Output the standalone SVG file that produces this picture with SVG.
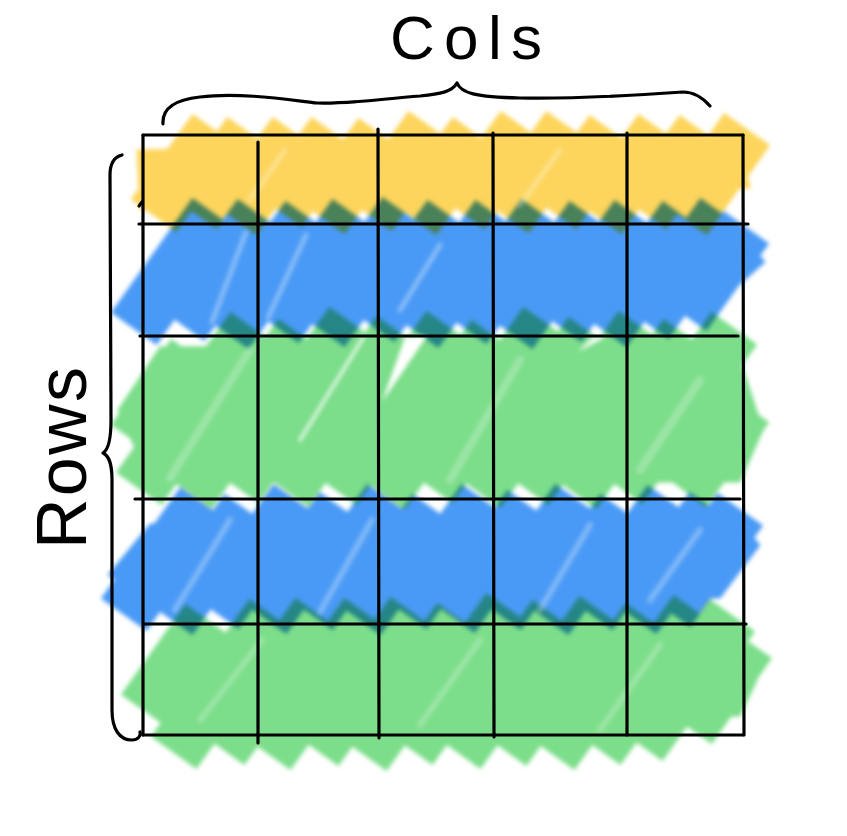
<svg xmlns="http://www.w3.org/2000/svg" width="847" height="836" viewBox="0 0 847 836">
  <defs>
    <filter id="soft" filterUnits="userSpaceOnUse" x="0" y="0" width="847" height="836">
      <feGaussianBlur stdDeviation="1.9"/>
    </filter>
    <filter id="softer" filterUnits="userSpaceOnUse" x="0" y="0" width="847" height="836">
      <feGaussianBlur stdDeviation="2"/>
    </filter>
    <style>
      .band { mix-blend-mode: multiply; }
      .strk { fill: none; stroke-width: 56; stroke-linecap: square; stroke-linejoin: round; }
      .yellow { fill: #FDD55B; stroke: #FDD55B; }
      .blue { fill: #4A9AF6; stroke: #4A9AF6; }
      .green { fill: #7CDE8A; stroke: #7CDE8A; }
      .streak { stroke: #FFFFFF; fill: none; stroke-linecap: round; }
      .grid { stroke: #000; stroke-width: 3.2; stroke-linecap: round; fill: none; }
      .ink { stroke: #000; stroke-width: 3.2; stroke-linecap: round; stroke-linejoin: round; fill: none; }
      .hand { font-family: "Liberation Sans", "DejaVu Sans", sans-serif; fill: #000; }
    </style>
  </defs>
  <rect width="847" height="836" fill="#FFFFFF"/>

  <g id="bands">
    <g id="row-1-yellow" class="band" filter="url(#soft)">
      <polygon class="yellow" points="137,150 740,142 750,188 140,210"/>
      <path class="strk yellow" d="M170 193l29-40M210 190l24-34M250 196l29-40M295 188l23-32M338 195l27-38M385 192l30-42M430 196l29-40M478 190l29-40M522 194l31-44M570 190l26-36M615 195l30-42M660 190l26-36M700 196l31-44"/>
    </g>
    <g id="row-2-blue" class="band" filter="url(#soft)">
      <polygon class="blue" points="125,300 170,242 745,238 765,262 720,302 150,314"/>
      <path class="strk blue" d="M150 306l49-69M198 302l46-64M242 310l50-70M292 304l47-66M338 308l51-72M388 303l46-64M432 309l50-70M480 305l48-67M526 310l50-70M575 303l46-64M620 308l49-68M662 300l45-63M700 292l30-42"/>
    </g>
    <g id="row-3-green" class="band" filter="url(#soft)">
      <polygon class="green" points="118,410 160,347 735,344 763,430 740,482 150,482"/>
      <path class="strk green" d="M150 418l28-40M155 466l82-115M205 470l80-112M252 464l84-118M302 468l81-113M350 466l83-116M398 471l80-112M446 464l84-118M494 469l81-113M542 466l83-116M590 470l80-112M636 465l82-114M700 468l30-40"/>
    </g>
    <g id="row-4-blue" class="band" filter="url(#soft)">
      <polygon class="blue" points="108,575 150,524 740,522 760,545 720,598 150,602"/>
      <path class="strk blue" d="M140 592l47-66M186 596l45-63M232 590l48-67M280 595l46-64M326 591l48-68M374 596l45-63M420 590l48-67M468 594l46-65M514 591l48-68M562 596l45-63M606 591l48-67M650 595l46-64M684 588l40-56"/>
    </g>
    <g id="row-5-green" class="band" filter="url(#soft)">
      <polygon class="green" points="128,690 165,638 735,638 757,680 740,716 175,726"/>
      <path class="strk green" d="M160 688l32-45M190 730l66-92M238 726l64-89M284 731l67-94M332 727l65-91M380 732l64-90M426 726l67-94M474 730l65-91M520 727l66-92M568 731l64-89M614 726l66-92M656 722l60-84M705 705l28-40"/>
    </g>
  </g>

  <g id="texture" filter="url(#softer)">
    <polygon points="382,402 405,337 427,336" fill="#FFFFFF"/>
    <polygon points="578,352 592,337 606,337" fill="#FFFFFF" opacity="0.9"/>
    <path class="streak" stroke-width="4" opacity="0.7" d="M300 440L363 338"/>
    <path class="streak" stroke-width="8" opacity="0.25" d="M170 478L250 350M450 480L520 360M640 470L700 380"/>
    <path class="streak" stroke-width="5" opacity="0.35" d="M212 322L246 232M268 318L306 235M400 310L440 245"/>
    <path class="streak" stroke-width="6" opacity="0.3" d="M175 610L230 520M320 612L372 520M540 610L590 525M650 600L700 530"/>
    <path class="streak" stroke-width="6" opacity="0.25" d="M200 720L262 640M420 725L480 640M600 730L660 645"/>
    <path class="streak" stroke-width="5" opacity="0.3" d="M250 200L285 150M520 205L560 150"/>
  </g>

  <g id="grid">
    <path class="grid" d="M143 135H743M139 224H748M140 336H738M135 499H740M144 624H746M143 735H743"/>
    <path class="grid" d="M143 135V735M258 142V743M378 129L379 738M493 133L494 737M627 133V735M743 135L744 735"/>
    <path class="grid" d="M139 206L142 202"/>
  </g>

  <g id="cols-brace">
    <path class="ink" d="M163,124 C162,110 172,100 200,97 C240,92 290,100 317,103 C350,104 380,99 420,96 C440,94 452,92 457,83 C461,93 475,97 520,98 C570,99 640,95 683,92 C695,92 703,98 710,106"/>
    <text class="hand" x="390" y="59" font-size="62" textLength="152" lengthAdjust="spacing">Cols</text>
  </g>

  <g id="rows-brace">
    <path class="ink" d="M122,155 C114,157 110,163 110,175 L111,420 C111,440 108,450 103,453 C109,456 112,463 112,480 L112,710 C112,730 120,740 132,740 C138,740 141,736 140,732"/>
    <text class="hand" transform="translate(86,549) rotate(-90)" x="0" y="0" font-size="70" textLength="182" lengthAdjust="spacing">Rows</text>
  </g>
</svg>
